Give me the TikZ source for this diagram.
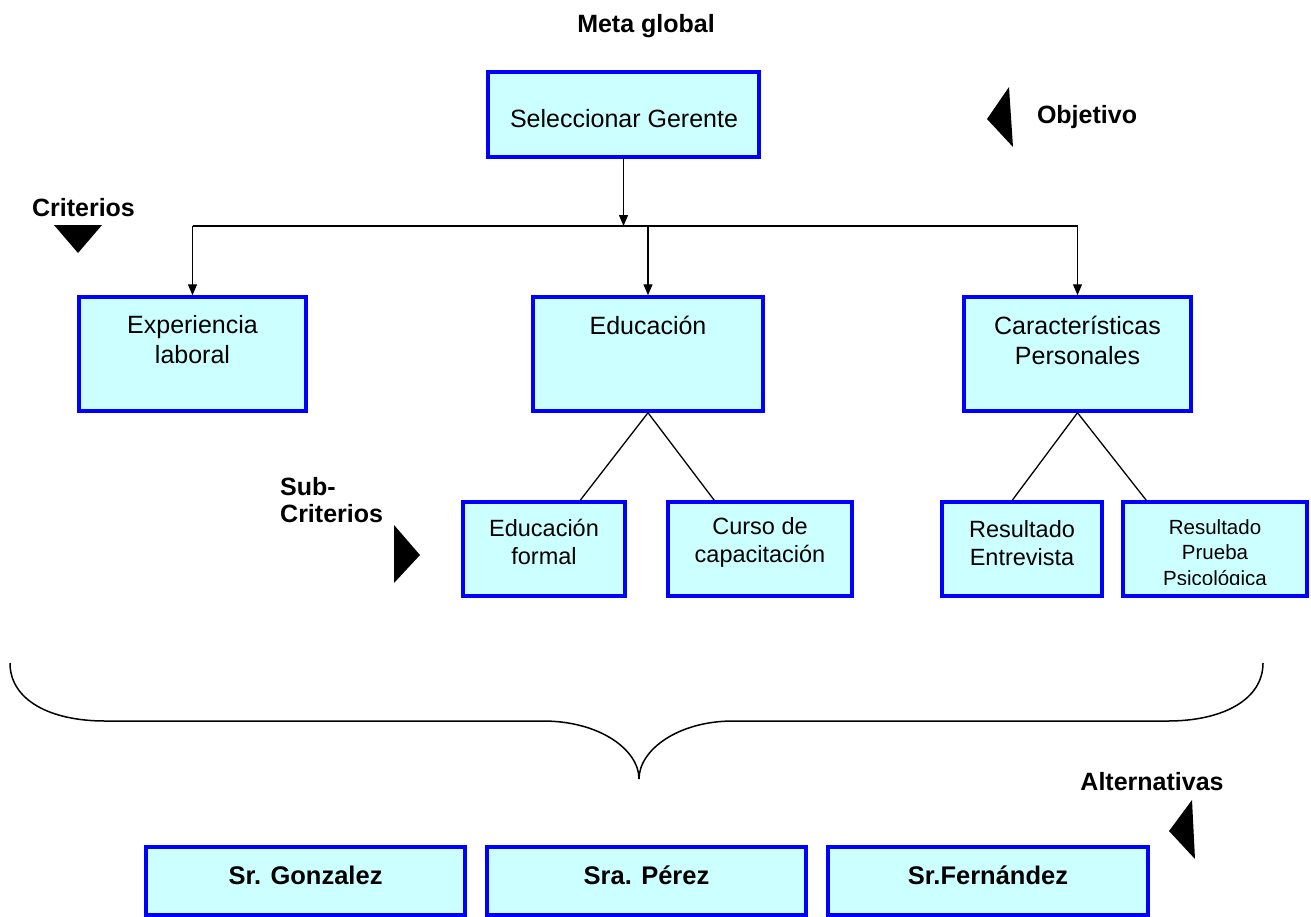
\documentclass[tikz,border=0pt]{standalone}
\usepackage{fontspec}
\setmainfont{Liberation Sans}
\usetikzlibrary{arrows.meta}
\definecolor{boxfill}{HTML}{CCFFFF}
\definecolor{boxline}{HTML}{0000FF}
\begin{document}
\begin{tikzpicture}[x=1pt,y=-1pt,
  box/.style={draw=boxline, fill=boxfill, line width=3.5pt, inner sep=0pt},
  conn/.style={line width=1.3pt, black},
  tip/.style={-{Triangle[length=11pt,width=9pt]}},
  lbl/.style={font=\fontsize{25}{29}\selectfont\bfseries, inner sep=0pt},
  txt/.style={font=\fontsize{25}{30}\selectfont, align=center, inner sep=0pt},
  stxt/.style={font=\fontsize{23.5}{28}\selectfont, align=center, inner sep=0pt},
  ptxt/.style={font=\fontsize{20.5}{25.5}\selectfont, align=center, inner sep=0pt},
  btxt/.style={font=\fontsize{25.5}{30}\selectfont\bfseries, inner sep=0pt},
  tri/.style={fill=black, draw=none}]
\useasboundingbox (0,0) rectangle (1311,916);

% labels
\node[lbl, anchor=base] (meta) at (646,32) {Meta global};
\node[lbl, anchor=base] (obj) at (1087,123) {Objetivo};
\node[lbl, anchor=base] (crit) at (83.5,216) {Criterios};
\node[lbl, anchor=base west, align=left] (sub) at (280,495) {Sub-};
\node[lbl, anchor=base west] (subc) at (280,522) {Criterios};
\node[lbl, anchor=base] (alt) at (1152,790) {Alternativas};

% triangles
\fill[tri] (987,119) -- (1009,87) -- (1013,147) -- cycle;
\fill[tri] (54,225) -- (102,225) -- (78,253) -- cycle;
\fill[tri] (394,525) -- (420,555) -- (394,583) -- cycle;
\fill[tri] (1169,831) -- (1192,800) -- (1195,859) -- cycle;

% goal
\node[box, minimum width=271pt, minimum height=85pt] (sel) at (623.5,114.5) {};
\node[txt, anchor=base] (selt) at (624,127) {Seleccionar Gerente};

% criteria
\node[box, minimum width=227pt, minimum height=114pt] (exp) at (192.5,354) {};
\node[txt] (expt) at (192.5,340) {Experiencia\\laboral};
\node[box, minimum width=230pt, minimum height=114pt] (edu) at (648,354) {};
\node[txt, anchor=base] (edut) at (648,334) {Educación};
\node[box, minimum width=227pt, minimum height=114pt] (car) at (1077.5,354) {};
\node[txt] (cart) at (1077.5,340) {Características\\Personales};

% sub-criteria
\node[box, minimum width=162pt, minimum height=94pt] (edf) at (544,549) {};
\node[stxt] (edft) at (544,542) {Educación\\formal};
\node[box, minimum width=184pt, minimum height=94pt] (cur) at (760,549) {};
\node[stxt] (curt) at (760,542) {Curso de\\capacitación};
\node[box, minimum width=160pt, minimum height=94pt] (ent) at (1022,549) {};
\node[stxt] (entt) at (1022,543) {Resultado\\Entrevista};
\node[box, minimum width=184pt, minimum height=94pt] (pru) at (1215,549) {};
\begin{scope}
  \clip (1123,500) rectangle (1307,584);
  \node[ptxt, anchor=north] (prut) at (1215,519) {Resultado\\Prueba\\Psicológica};
\end{scope}

% alternatives
\node[box, minimum width=319pt, minimum height=68pt] (g) at (305.5,881) {};
\node[btxt, anchor=base] (gt) at (305.5,884) {Sr. Gonzalez};
\node[box, minimum width=319pt, minimum height=68pt] (p) at (646.5,881) {};
\node[btxt, anchor=base] (pt) at (646.5,884) {Sra. Pérez};
\node[box, minimum width=320pt, minimum height=68pt] (f) at (988,881) {};
\node[btxt, anchor=base] (ft) at (988,884) {Sr.Fernández};

% connectors
\coordinate (bar) at (624,226);
\draw[conn, tip] (sel.south) -- (sel.south |- bar);
\draw[conn] (exp.north |- bar) -- (car.north |- bar);
\draw[conn, tip] (exp.north |- bar) -- (exp.north);
\draw[conn, tip] (edu.north |- bar) -- (edu.north);
\draw[conn, tip] (car.north |- bar) -- (car.north);

\draw[conn] (edu.south) -- ([xshift=119pt]edf.north west);
\draw[conn] (edu.south) -- ([xshift=48pt]cur.north west);
\draw[conn] (car.south) -- ([xshift=72pt]ent.north west);
\draw[conn] (car.south) -- ([xshift=25pt]pru.north west);

% brace
\draw[line width=1.5pt] (10,663) .. controls (10,700) and (50,721) .. (105,721)
  -- (543,721) .. controls (600,721) and (639,750) .. (639,779)
  .. controls (639,750) and (678,721) .. (733,721)
  -- (1168,721) .. controls (1222,721) and (1263,700) .. (1263,663);
\end{tikzpicture}
\end{document}
